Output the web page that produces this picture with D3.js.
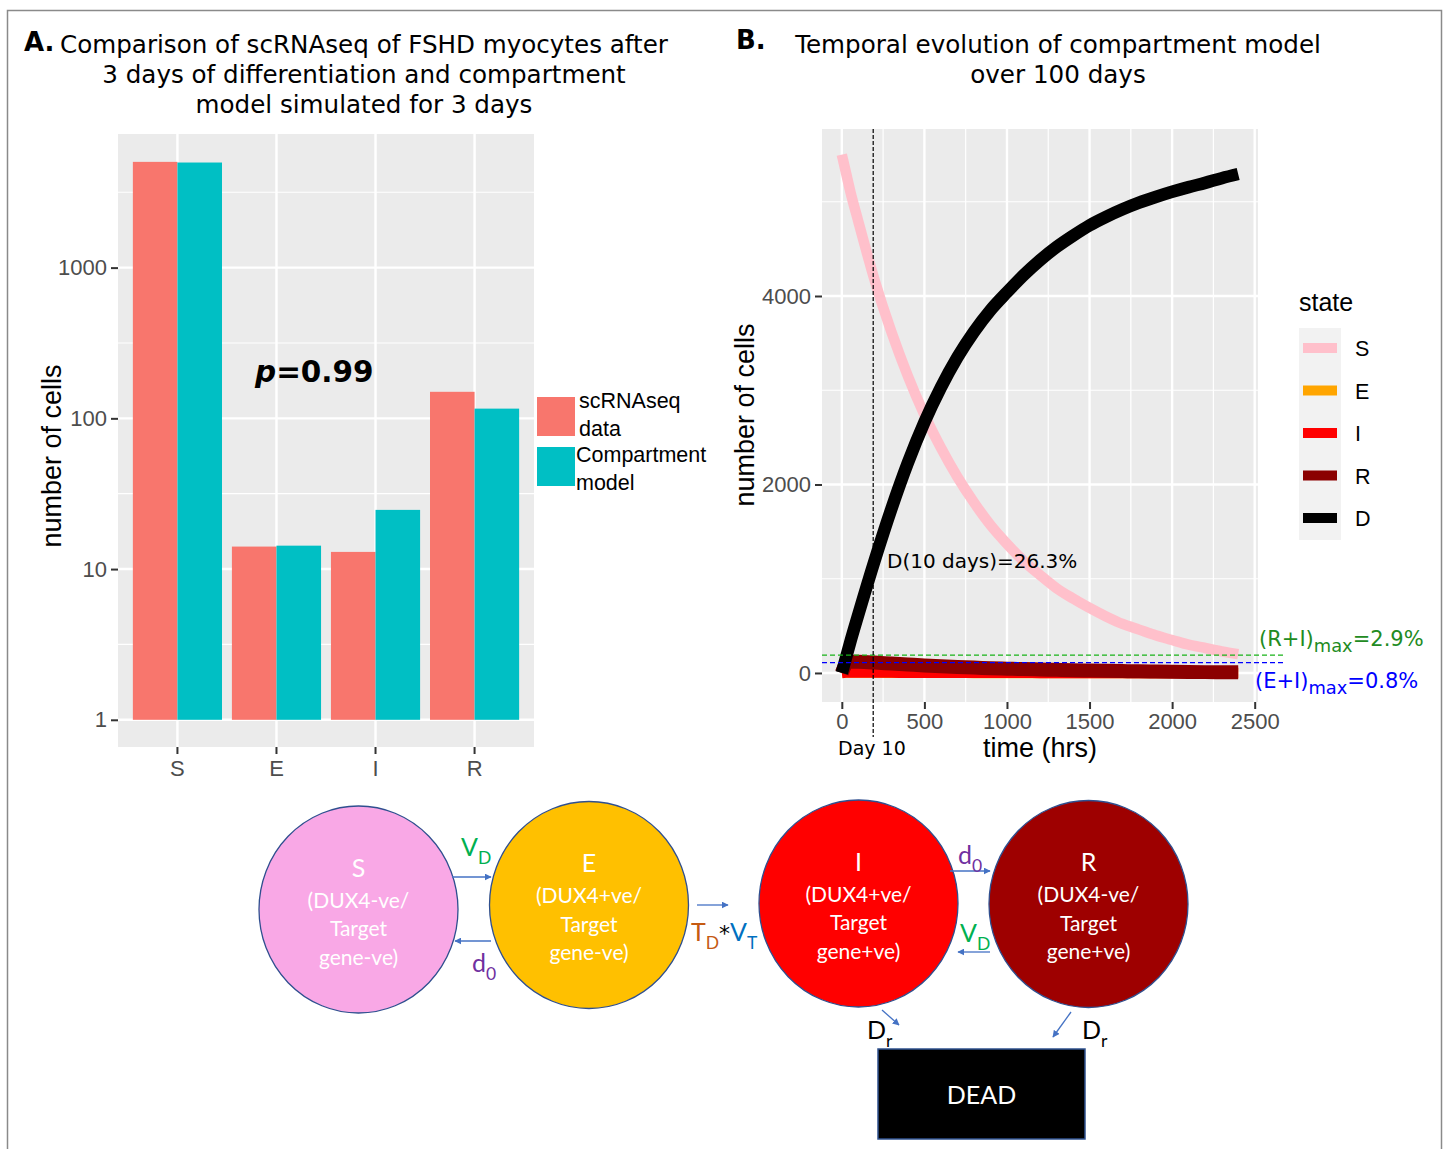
<!DOCTYPE html>
<html><head><meta charset="utf-8">
<script src="https://cdn.jsdelivr.net/npm/d3@7"></script>
<style>body{margin:0;background:#fff}svg{display:block}</style>
</head><body>
<svg id="c" width="1447" height="1149"></svg>
<script>
// ---------------- Panel A data ----------------
const categories = ["S", "E", "I", "R"];
const seriesNames = ["scRNAseq data", "Compartment model"];
const seriesColors = ["#F8766D", "#00BFC4"];
const scRNAseqCounts = [5030, 14.1, 13.0, 150];
const modelCounts = [4980, 14.3, 24.7, 116];
const logTicks = [1, 10, 100, 1000];
const logMinorTicks = [3.162, 31.62, 316.2, 3162];
const pValueLabel = "0.99";

// ---------------- Panel B data ----------------
const timeHrs = [0, 25, 50, 100, 200, 300, 400, 500, 600, 700, 800, 900, 1000, 1100, 1200, 1300, 1400, 1500, 1600, 1700, 1800, 1900, 2000, 2100, 2200, 2300, 2400];
const cellsS = [5500, 5310, 5120, 4790, 4160, 3620, 3150, 2740, 2390, 2080, 1810, 1570, 1370, 1190, 1040, 900, 790, 690, 600, 520, 460, 400, 350, 300, 265, 230, 200];
const cellsE = [0, 6, 6, 5, 4, 3, 3, 2, 2, 2, 1, 1, 1, 1, 1, 1, 1, 0, 0, 0, 0, 0, 0, 0, 0, 0, 0];
const cellsI = [0, 4, 5, 5, 4, 4, 3, 3, 3, 2, 2, 2, 2, 2, 1, 1, 1, 1, 1, 1, 1, 0, 0, 0, 0, 0, 0];
const cellsR = [0, 95, 120, 118, 110, 100, 90, 80, 72, 64, 57, 51, 46, 41, 37, 33, 29, 26, 23, 20, 17, 15, 13, 11, 9, 8, 7];
const cellsD = [0, 160, 320, 620, 1200, 1740, 2230, 2660, 3030, 3350, 3620, 3850, 4040, 4220, 4380, 4520, 4640, 4750, 4840, 4920, 4990, 5050, 5105, 5155, 5200, 5250, 5294];
const stateNames = ["S", "E", "I", "R", "D"];
const stateColors = ["pink", "orange", "red", "darkred", "black"];
const timeTicks = [0, 500, 1000, 1500, 2000, 2500];
const timeMinorTicks = [250, 750, 1250, 1750, 2250];
const cellTicks = [0, 2000, 4000];
const cellMinorTicks = [1000, 3000, 5000];
const day10Hrs = 190;
const riMaxCells = 190;
const eiMaxCells = 110;

// ---------------- Diagram data ----------------
const compartments = ["S", "E", "I", "R"];
const compartmentDesc = [["(DUX4-ve/", "Target", "gene-ve)"], ["(DUX4+ve/", "Target", "gene-ve)"], ["(DUX4+ve/", "Target", "gene+ve)"], ["(DUX4-ve/", "Target", "gene+ve)"]];
const compartmentColors = ["#F9A8E6", "#FFC000", "#FF0000", "#9E0000"];

const svg = d3.select("#c");
const SANS = "'Liberation Sans', Arial, sans-serif";
const DV = "'DejaVu Sans', Verdana, sans-serif";
const LATO = "Lato, 'Open Sans', sans-serif";

// outer frame
svg.append("path").attr("d", "M7.5,1149 V10.5 H1441.5 V1149").attr("fill", "none").attr("stroke", "#8a8a8a").attr("stroke-width", 1.5);

function styleAxis(g) {
  g.select(".domain").remove();
  g.selectAll(".tick line").attr("stroke", "#333").attr("stroke-width", 2);
  g.selectAll(".tick text").attr("fill", "#4d4d4d").style("font-family", SANS).style("font-size", "22px");
}

function rich(parent, x, y, parts, size, family, anchor) {
  const t = parent.append("text").attr("x", x).attr("y", y).style("font-family", family).style("font-size", size + "px").attr("text-anchor", anchor || "start");
  let shifted = 0;
  parts.forEach(p => {
    const ts = t.append("tspan").text(p.t).attr("fill", p.c || "#000");
    if (p.f) ts.style("font-family", p.f);
    if (p.s) ts.style("font-size", p.s + "px");
    if (p.sub) { ts.attr("dy", (size * 0.3) - shifted).style("font-size", (size * (p.k || 0.75)) + "px"); shifted = size * 0.3; }
    else if (shifted) { ts.attr("dy", -shifted); shifted = 0; }
  });
  return t;
}

// ================= Panel A =================
const A = {l: 118, r: 534, t: 134, b: 747};
const xA = d3.scaleBand().domain(categories).range([A.l, A.r]).paddingInner(0.1).paddingOuter(0.15);
const xSub = d3.scaleBand().domain(seriesNames).range([0, xA.bandwidth()]);
const yA = d3.scaleLog().domain([0.66, 7700]).range([A.b, A.t]);
const gA = svg.append("g");
gA.append("rect").attr("x", A.l).attr("y", A.t).attr("width", A.r - A.l).attr("height", A.b - A.t).attr("fill", "#EBEBEB");
gA.selectAll(".mn").data(logMinorTicks).join("line").attr("x1", A.l).attr("x2", A.r).attr("y1", d => yA(d)).attr("y2", d => yA(d)).attr("stroke", "#fff").attr("stroke-width", 1.2);
gA.selectAll(".mj").data(logTicks).join("line").attr("x1", A.l).attr("x2", A.r).attr("y1", d => yA(d)).attr("y2", d => yA(d)).attr("stroke", "#fff").attr("stroke-width", 2.4);
gA.selectAll(".vx").data(categories).join("line").attr("x1", d => xA(d) + xA.bandwidth() / 2).attr("x2", d => xA(d) + xA.bandwidth() / 2).attr("y1", A.t).attr("y2", A.b).attr("stroke", "#fff").attr("stroke-width", 2.4);
const barData = [];
categories.forEach((c, i) => {
  barData.push({c, s: seriesNames[0], v: scRNAseqCounts[i], col: seriesColors[0]});
  barData.push({c, s: seriesNames[1], v: modelCounts[i], col: seriesColors[1]});
});
gA.selectAll(".bar").data(barData).join("rect")
  .attr("x", d => xA(d.c) + xSub(d.s)).attr("width", xSub.bandwidth())
  .attr("y", d => yA(d.v)).attr("height", d => yA(1) - yA(d.v)).attr("fill", d => d.col);
const axA = svg.append("g").attr("transform", `translate(${A.l},0)`).call(d3.axisLeft(yA).tickValues(logTicks).tickFormat(d3.format("d")).tickSize(7).tickPadding(4));
styleAxis(axA);
const axAx = svg.append("g").attr("transform", `translate(0,${A.b})`).call(d3.axisBottom(xA).tickSize(7).tickPadding(6));
styleAxis(axAx);
svg.append("text").attr("transform", "translate(61,456) rotate(-90)").attr("text-anchor", "middle").style("font-family", SANS).style("font-size", "27px").text("number of cells");
// p-value
const pt = svg.append("text").attr("x", 255).attr("y", 382).style("font-family", DV).style("font-size", "29.5px").style("font-weight", "bold");
pt.append("tspan").text("p").style("font-style", "italic");
pt.append("tspan").text("=" + pValueLabel);
// legend A
const legA = svg.append("g");
seriesNames.forEach((s, i) => {
  legA.append("rect").attr("x", 537).attr("y", 397 + i * 50).attr("width", 38).attr("height", 39).attr("fill", seriesColors[i]);
});
[["scRNAseq", "data"], ["Compartment", "model"]].forEach((lines, i) => {
  lines.forEach((l, j) => legA.append("text").attr("x", i === 0 ? 579 : 576).attr("y", 408 + i * 54 + j * 28).style("font-family", SANS).style("font-size", "21.5px").text(l));
});
// title A
svg.append("text").attr("x", 24).attr("y", 51).style("font-family", DV).style("font-size", "26px").style("font-weight", "bold").text("A.");
["Comparison of scRNAseq of FSHD myocytes after", "3 days of differentiation and compartment", "model simulated for 3 days"].forEach((l, i) => {
  svg.append("text").attr("x", 364).attr("y", 53 + i * 30).attr("text-anchor", "middle").style("font-family", DV).style("font-size", "24.6px").text(l);
});

// ================= Panel B =================
const B = {l: 822, r: 1258, t: 129, b: 702};
const xB = d3.scaleLinear().domain([-120, 2520]).range([B.l, B.r]);
const yB = d3.scaleLinear().domain([-308, 5772]).range([B.b, B.t]);
const gB = svg.append("g");
gB.append("rect").attr("x", B.l).attr("y", B.t).attr("width", B.r - B.l).attr("height", B.b - B.t).attr("fill", "#EBEBEB");
gB.selectAll(".hm").data(cellMinorTicks).join("line").attr("x1", B.l).attr("x2", B.r).attr("y1", d => yB(d)).attr("y2", d => yB(d)).attr("stroke", "#fff").attr("stroke-width", 1.2);
gB.selectAll(".vm").data(timeMinorTicks).join("line").attr("y1", B.t).attr("y2", B.b).attr("x1", d => xB(d)).attr("x2", d => xB(d)).attr("stroke", "#fff").attr("stroke-width", 1.2);
gB.selectAll(".hj").data(cellTicks).join("line").attr("x1", B.l).attr("x2", B.r).attr("y1", d => yB(d)).attr("y2", d => yB(d)).attr("stroke", "#fff").attr("stroke-width", 2.4);
gB.selectAll(".vj").data(timeTicks).join("line").attr("y1", B.t).attr("y2", B.b).attr("x1", d => xB(d)).attr("x2", d => xB(d)).attr("stroke", "#fff").attr("stroke-width", 2.4);
const seriesB = [cellsS, cellsE, cellsI, cellsR, cellsD];
const widthsB = [10.5, 10.5, 10.5, 14, 12.5];
const lineB = d3.line().x((d, i) => xB(timeHrs[i])).y(d => yB(d)).curve(d3.curveMonotoneX);
seriesB.forEach((arr, k) => {
  gB.append("path").attr("d", lineB(arr)).attr("fill", "none").attr("stroke", stateColors[k]).attr("stroke-width", widthsB[k]).attr("stroke-linecap", "butt").attr("stroke-linejoin", "round");
});
// reference lines
gB.append("line").attr("x1", B.l).attr("x2", 1283).attr("y1", yB(riMaxCells)).attr("y2", yB(riMaxCells)).attr("stroke", "#19B319").attr("stroke-width", 1.3).attr("stroke-dasharray", "5,3");
gB.append("line").attr("x1", B.l).attr("x2", 1283).attr("y1", yB(eiMaxCells)).attr("y2", yB(eiMaxCells)).attr("stroke", "#0000FF").attr("stroke-width", 1.3).attr("stroke-dasharray", "5,3");
gB.append("line").attr("x1", xB(day10Hrs)).attr("x2", xB(day10Hrs)).attr("y1", B.t).attr("y2", 737).attr("stroke", "#000").attr("stroke-width", 1.2).attr("stroke-dasharray", "4,2");
const axB = svg.append("g").attr("transform", `translate(${B.l},0)`).call(d3.axisLeft(yB).tickValues(cellTicks).tickFormat(d3.format("d")).tickSize(7).tickPadding(4));
styleAxis(axB);
const axBx = svg.append("g").attr("transform", `translate(0,${B.b})`).call(d3.axisBottom(xB).tickValues(timeTicks).tickFormat(d3.format("d")).tickSize(7).tickPadding(4));
styleAxis(axBx);
svg.append("text").attr("transform", "translate(754,415) rotate(-90)").attr("text-anchor", "middle").style("font-family", SANS).style("font-size", "27px").text("number of cells");
svg.append("text").attr("x", 1040).attr("y", 757).attr("text-anchor", "middle").style("font-family", SANS).style("font-size", "27px").text("time (hrs)");
svg.append("text").attr("x", 838).attr("y", 755).style("font-family", DV).style("font-size", "19px").text("Day 10");
svg.append("text").attr("x", 887).attr("y", 568).style("font-family", DV).style("font-size", "20px").text("D(10 days)=26.3%");
rich(svg, 1259, 646, [{t: "(R+I)", c: "#228B22"}, {t: "max", c: "#228B22", sub: true, k: 0.85}, {t: "=2.9%", c: "#228B22"}], 21, DV);
rich(svg, 1255, 688, [{t: "(E+I)", c: "#0000FF"}, {t: "max", c: "#0000FF", sub: true, k: 0.85}, {t: "=0.8%", c: "#0000FF"}], 21, DV);
// legend B
svg.append("text").attr("x", 1299).attr("y", 311).style("font-family", SANS).style("font-size", "25px").text("state");
svg.append("rect").attr("x", 1299).attr("y", 328).attr("width", 42).attr("height", 212).attr("fill", "#F2F2F2");
stateNames.forEach((s, i) => {
  const y = 348 + i * 42.5;
  svg.append("line").attr("x1", 1303).attr("x2", 1337).attr("y1", y).attr("y2", y).attr("stroke", stateColors[i]).attr("stroke-width", 10);
  svg.append("text").attr("x", 1355).attr("y", y + 8).style("font-family", SANS).style("font-size", "21.5px").text(s);
});
// title B
svg.append("text").attr("x", 736).attr("y", 49).style("font-family", DV).style("font-size", "26px").style("font-weight", "bold").text("B.");
["Temporal evolution of compartment model", "over 100 days"].forEach((l, i) => {
  svg.append("text").attr("x", 1058).attr("y", 53 + i * 30).attr("text-anchor", "middle").style("font-family", DV).style("font-size", "24.6px").text(l);
});

// ================= Diagram =================
const circ = [{cx: 358.5, cy: 909.5}, {cx: 589, cy: 905}, {cx: 858.5, cy: 903.5}, {cx: 1088.5, cy: 904}];
const gD = svg.append("g");
compartments.forEach((c, i) => {
  gD.append("ellipse").attr("cx", circ[i].cx).attr("cy", circ[i].cy).attr("rx", 99.5).attr("ry", 103.5).attr("fill", compartmentColors[i]).attr("stroke", "#2F4F8F").attr("stroke-width", 1.3);
  const top = circ[i].cy - 33;
  gD.append("text").attr("x", circ[i].cx).attr("y", top).attr("text-anchor", "middle").style("font-family", LATO).style("font-size", "25px").attr("fill", "#fff").text(c);
  compartmentDesc[i].forEach((l, j) => gD.append("text").attr("x", circ[i].cx).attr("y", top + 31 + j * 28.5).attr("text-anchor", "middle").style("font-family", LATO).style("font-size", "21px").attr("fill", "#fff").text(l));
});
const defs = svg.append("defs");
defs.append("marker").attr("id", "ah").attr("viewBox", "0 0 10 10").attr("refX", 9).attr("refY", 5).attr("markerWidth", 7).attr("markerHeight", 7).attr("orient", "auto").attr("markerUnits", "userSpaceOnUse")
  .append("path").attr("d", "M0,0 L10,5 L0,10 Z").attr("fill", "#4472C4");
const arrows = [[452, 877, 491, 877], [491, 941, 455, 941], [697, 905, 728, 905], [950, 871, 990, 871], [990, 952, 958, 952], [882, 1010, 899, 1025], [1071, 1012, 1053, 1037]];
arrows.forEach(a => gD.append("line").attr("x1", a[0]).attr("y1", a[1]).attr("x2", a[2]).attr("y2", a[3]).attr("stroke", "#4472C4").attr("stroke-width", 1.3).attr("marker-end", "url(#ah)"));
const GREEN = "#00B050", PURPLE = "#7030A0", BROWN = "#C55A11", BLUE = "#0070C0";
rich(gD, 461, 856, [{t: "V", c: GREEN}, {t: "D", c: GREEN, sub: true, k: 0.7}], 25, LATO);
rich(gD, 472, 972, [{t: "d", c: PURPLE}, {t: "0", c: PURPLE, sub: true, k: 0.7}], 25, LATO);
rich(gD, 691, 941, [{t: "T", c: BROWN}, {t: "D", c: BROWN, sub: true, k: 0.7}, {t: "*", c: "#000", f: DV, s: 22}, {t: "V", c: BLUE}, {t: "T", c: BLUE, sub: true, k: 0.7}], 25, LATO);
rich(gD, 958, 864, [{t: "d", c: PURPLE}, {t: "0", c: PURPLE, sub: true, k: 0.7}], 25, LATO);
rich(gD, 960, 942, [{t: "V", c: GREEN}, {t: "D", c: GREEN, sub: true, k: 0.7}], 25, LATO);
rich(gD, 867, 1039, [{t: "D"}, {t: "r", sub: true, k: 0.7}], 25, LATO);
rich(gD, 1082, 1039, [{t: "D"}, {t: "r", sub: true, k: 0.7}], 25, LATO);
gD.append("rect").attr("x", 878).attr("y", 1049).attr("width", 207).attr("height", 90).attr("fill", "#000").attr("stroke", "#2F528F").attr("stroke-width", 1.5);
gD.append("text").attr("x", 981.5).attr("y", 1104).attr("text-anchor", "middle").style("font-family", LATO).style("font-size", "25px").attr("fill", "#fff").text("DEAD");
</script>
</body></html>
